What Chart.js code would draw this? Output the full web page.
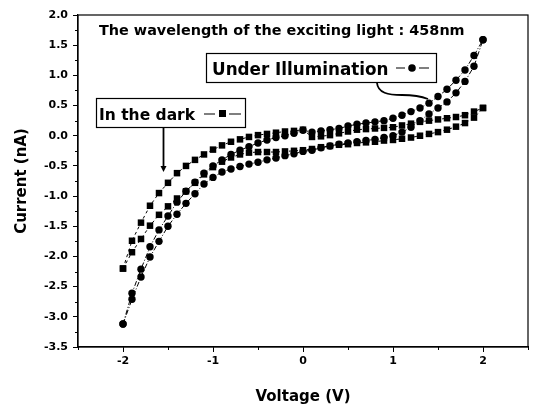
<!DOCTYPE html>
<html>
<head>
<meta charset="utf-8">
<script src="https://cdn.jsdelivr.net/npm/chart.js@4/dist/chart.umd.min.js"></script>
<style>
  html, body { margin: 0; padding: 0; background: #fff; }
  #c { display: block; }
</style>
</head>
<body>
<canvas id="c" width="535" height="408"></canvas>
<script>
// Voltage sweep (V)
const voltage = [-2.0,-1.9,-1.8,-1.7,-1.6,-1.5,-1.4,-1.3,-1.2,-1.1,-1.0,-0.9,-0.8,-0.7,-0.6,-0.5,-0.4,-0.3,-0.2,-0.1,0.0,
                 0.1,0.2,0.3,0.4,0.5,0.6,0.7,0.8,0.9,1.0,1.1,1.2,1.3,1.4,1.5,1.6,1.7,1.8,1.9,2.0];
// Current (nA) in the dark, two sweep branches
const darkBranchA = [-2.20,-1.74,-1.44,-1.16,-0.95,-0.78,-0.62,-0.50,-0.40,-0.31,-0.23,-0.16,-0.10,-0.06,-0.02,0.01,0.03,0.05,0.07,0.08,0.10,
                     -0.02,-0.01,0.01,0.04,0.07,0.10,0.11,0.12,0.13,0.14,0.17,0.20,0.23,0.25,0.27,0.29,0.31,0.34,0.40,0.46];
const darkBranchB = [-2.20,-1.93,-1.71,-1.49,-1.31,-1.17,-1.04,-0.92,-0.78,-0.64,-0.52,-0.43,-0.36,-0.31,-0.28,-0.27,-0.27,-0.27,-0.26,-0.25,-0.24,
                     -0.22,-0.19,-0.17,-0.15,-0.14,-0.12,-0.11,-0.10,-0.08,-0.07,-0.05,-0.03,0.00,0.03,0.06,0.10,0.15,0.21,0.30,0.46];
// Current (nA) under illumination, two sweep branches
const lightBranchA = [-3.12,-2.61,-2.21,-1.84,-1.56,-1.33,-1.10,-0.92,-0.77,-0.62,-0.50,-0.40,-0.31,-0.24,-0.18,-0.12,-0.07,-0.03,0.00,0.04,0.09,
                      0.06,0.08,0.10,0.12,0.16,0.19,0.21,0.23,0.25,0.29,0.34,0.40,0.46,0.54,0.65,0.77,0.92,1.09,1.33,1.59];
const lightBranchB = [-3.12,-2.71,-2.34,-2.01,-1.75,-1.50,-1.30,-1.12,-0.96,-0.80,-0.69,-0.60,-0.55,-0.51,-0.47,-0.44,-0.40,-0.37,-0.33,-0.30,-0.26,
                      -0.24,-0.20,-0.17,-0.14,-0.12,-0.10,-0.08,-0.06,-0.03,0.00,0.06,0.14,0.25,0.36,0.46,0.56,0.71,0.90,1.15,1.59];

const titleText = 'The wavelength of the exciting light : 458nm';
const darkLabel = 'In the dark';
const lightLabel = 'Under Illumination';

const FONT = '"DejaVu Sans", sans-serif';
const pts = arr => arr.map((y, i) => ({ x: voltage[i], y }));

const darkStyle = { borderColor: '#000', backgroundColor: '#000', borderWidth: 1, borderDash: [3, 3],
  pointStyle: 'rect', pointRadius: 4.6, pointBorderWidth: 0, fill: false, tension: 0 };
const lightStyle = { borderColor: '#000', backgroundColor: '#000', borderWidth: 1, borderDash: [5, 2, 1, 2],
  pointStyle: 'circle', pointRadius: 3.7, pointBorderWidth: 0, fill: false, tension: 0 };

const isMajor = (v, step) => Math.abs(v / step - Math.round(v / step)) < 1e-6;

const decor = {
  id: 'decor',
  afterDatasetsDraw(chart) {
    const c = chart.ctx, a = chart.chartArea;
    const xs = chart.scales.x, ys = chart.scales.y;
    c.save();
    // frame
    c.strokeStyle = '#000'; c.lineWidth = 1.2;
    c.strokeRect(a.left, a.top, a.right - a.left, a.bottom - a.top);
    // minor ticks
    c.lineWidth = 1;
    c.beginPath();
    for (let v = -2.5; v <= 2.5001; v += 0.5) {
      if (!isMajor(v, 1)) { const px = Math.round(xs.getPixelForValue(v)) + 0.5; c.moveTo(px, a.bottom); c.lineTo(px, a.bottom + 3); }
    }
    for (let v = -3.5; v <= 2.0001; v += 0.25) {
      if (!isMajor(v, 0.5)) { const py = Math.round(ys.getPixelForValue(v)) + 0.5; c.moveTo(a.left, py); c.lineTo(a.left - 3, py); }
    }
    c.stroke();

    // title text
    c.fillStyle = '#000';
    c.font = 'bold 14.4px ' + FONT;
    c.textBaseline = 'alphabetic';
    c.fillText(titleText, 99, 35);

    // "Under Illumination" box
    c.lineWidth = 1.2;
    c.strokeRect(206.5, 53.5, 230, 29);
    c.font = 'bold 16.8px ' + FONT;
    c.fillText(lightLabel, 212, 75);
    c.beginPath(); c.setLineDash([]);
    c.moveTo(396, 68); c.lineTo(405, 68); c.moveTo(419, 68); c.lineTo(429, 68); c.stroke();
    c.beginPath(); c.arc(412, 68, 3.8, 0, Math.PI * 2); c.fill();
    // curved pointer
    c.lineWidth = 1.8;
    c.beginPath();
    c.moveTo(377, 83);
    c.bezierCurveTo(378, 93, 388, 95, 402, 95);
    c.quadraticCurveTo(418, 95, 428, 99);
    c.stroke();

    // "In the dark" box
    c.lineWidth = 1.2;
    c.strokeRect(96.5, 98.5, 149, 29);
    c.font = 'bold 15.5px ' + FONT;
    c.fillText(darkLabel, 99, 120);
    c.beginPath();
    c.moveTo(204, 114); c.lineTo(215, 114); c.moveTo(229, 114); c.lineTo(241, 114); c.stroke();
    c.fillRect(219, 110, 7, 7);
    // straight pointer
    c.lineWidth = 1.8;
    c.beginPath(); c.moveTo(163.5, 128); c.lineTo(163.5, 168); c.stroke();
    c.beginPath(); c.moveTo(160.5, 166); c.lineTo(166.5, 166); c.lineTo(163.5, 172); c.closePath(); c.fill();
    c.restore();
  }
};

new Chart(document.getElementById('c'), {
  type: 'line',
  data: {
    datasets: [
      Object.assign({ label: 'dark A', data: pts(darkBranchA) }, darkStyle),
      Object.assign({ label: 'dark B', data: pts(darkBranchB) }, darkStyle),
      Object.assign({ label: 'light A', data: pts(lightBranchA) }, lightStyle),
      Object.assign({ label: 'light B', data: pts(lightBranchB) }, lightStyle)
    ]
  },
  options: {
    responsive: false,
    animation: false,
    layout: { padding: { left: 0, right: 7, top: 15, bottom: 0 } },
    plugins: { legend: { display: false }, tooltip: { enabled: false } },
    scales: {
      x: {
        type: 'linear', min: -2.5, max: 2.5,
        ticks: { stepSize: 0.5, autoSkip: false, maxRotation: 0, padding: 3, color: '#000',
          font: { family: FONT, size: 11, weight: 'bold' },
          callback: v => isMajor(v, 1) ? String(Math.round(v)) : '' },
        grid: { drawOnChartArea: false, tickLength: 5, color: '#000',
          tickColor: ctx => (ctx.tick && isMajor(ctx.tick.value, 1)) ? '#000' : 'rgba(0,0,0,0)' },
        border: { color: '#000', width: 1.2 },
        title: { display: true, text: 'Voltage (V)', color: '#000', padding: { top: 4, bottom: 2 },
          font: { family: FONT, size: 15, weight: 'bold' } },
        afterFit: s => { s.height = 61; }
      },
      y: {
        min: -3.5, max: 2.0,
        ticks: { stepSize: 0.25, autoSkip: false, padding: 5, color: '#000',
          font: { family: FONT, size: 11, weight: 'bold' },
          callback: v => isMajor(v, 0.5) ? v.toFixed(1) : '' },
        grid: { drawOnChartArea: false, tickLength: 5, color: '#000',
          tickColor: ctx => (ctx.tick && isMajor(ctx.tick.value, 0.5)) ? '#000' : 'rgba(0,0,0,0)' },
        border: { color: '#000', width: 1.2 },
        title: { display: true, text: 'Current (nA)', color: '#000', padding: { top: 13, bottom: 2 },
          font: { family: FONT, size: 15, weight: 'bold' } },
        afterFit: s => { s.width = 78; }
      }
    }
  },
  plugins: [decor]
});
</script>
</body>
</html>
